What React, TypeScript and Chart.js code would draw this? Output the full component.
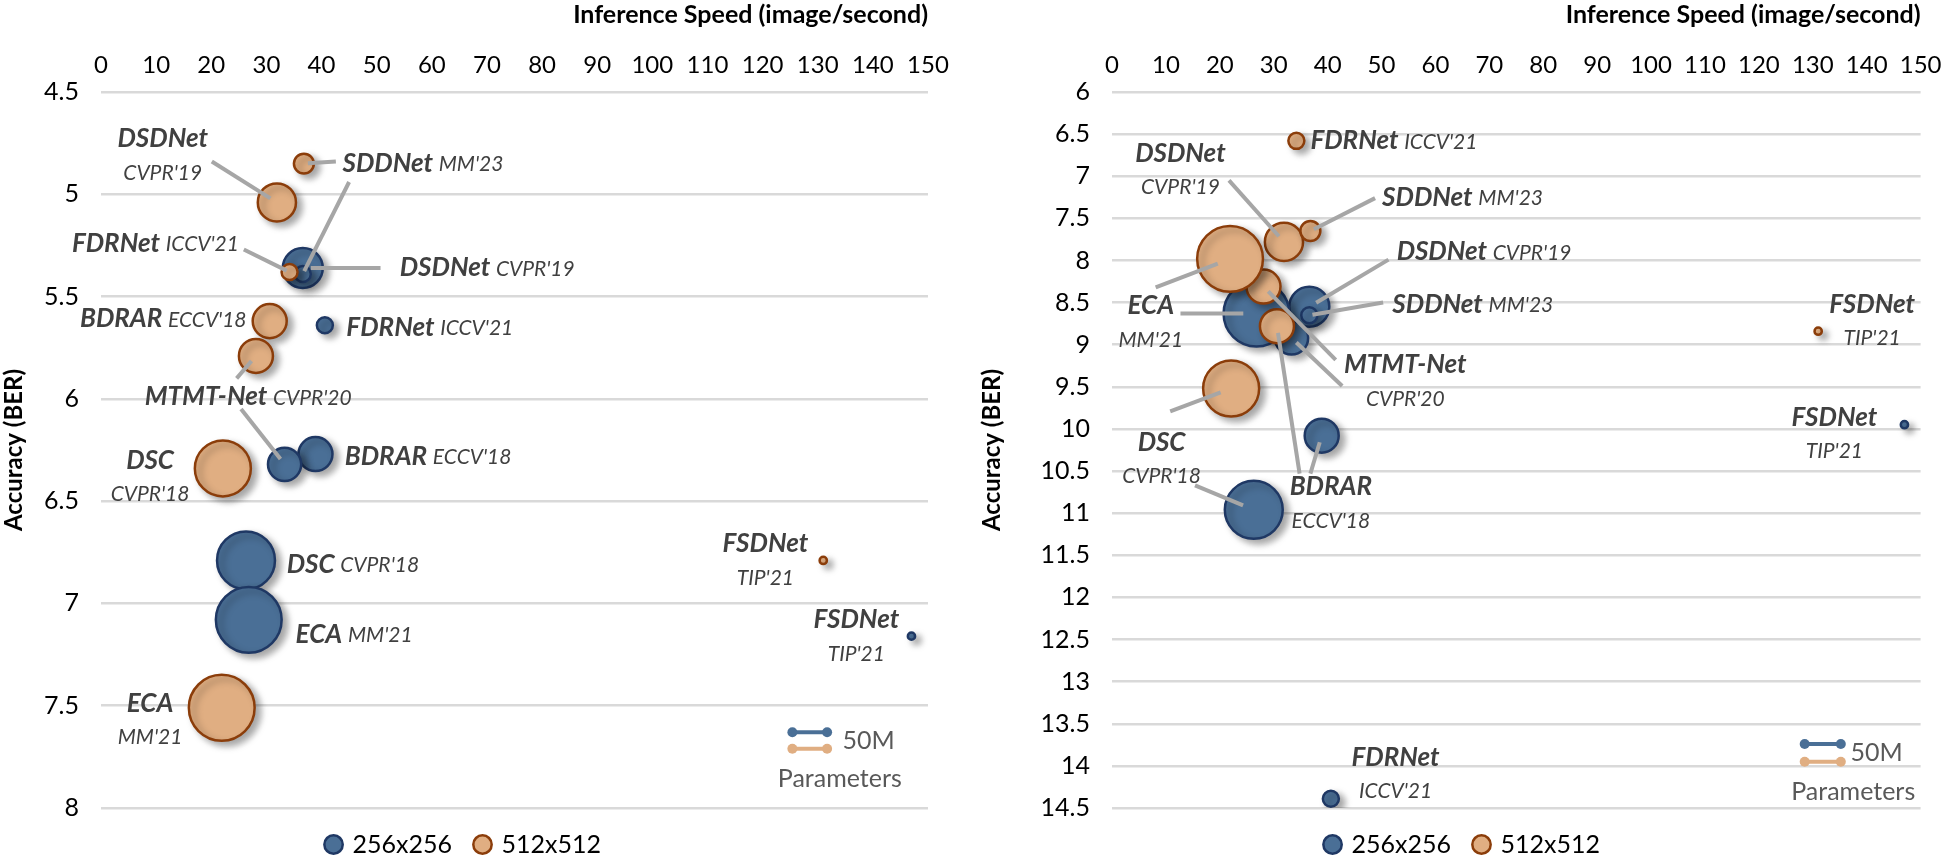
import React, { useEffect, useRef } from 'react';
import { Chart, registerables } from 'chart.js';

Chart.register(...registerables);

// ---- data (speed in image/second, BER, params in M) ----
// order: DSDNet, SDDNet, FDRNet, BDRAR, MTMT-Net, DSC, ECA, FSDNet
const methods = ['DSDNet', 'SDDNet', 'FDRNet', 'BDRAR', 'MTMT-Net', 'DSC', 'ECA', 'FSDNet'];
const speed256 = [36.6, 36.6, 40.6, 38.9, 33.3, 26.3, 26.8, 147];
const speed512 = [31.9, 36.8, 34.2, 30.6, 28.1, 22.1, 21.9, 131];
const params256 = [18.1, 2.9, 2.9, 13.1, 12.5, 38, 49, 0.6];
const params512 = [16.5, 4.5, 2.9, 13.1, 13.1, 35.5, 49, 0.6];
const berLeft256 = [5.36, 5.39, 5.64, 6.27, 6.32, 6.79, 7.08, 7.16];
const berLeft512 = [5.04, 4.85, 5.38, 5.62, 5.79, 6.34, 7.51, 6.79];
const berRight256 = [8.55, 8.65, 14.39, 10.08, 8.92, 10.96, 8.63, 9.95];
const berRight512 = [7.78, 7.65, 6.58, 8.78, 8.31, 9.52, 7.98, 8.84];
const xTicks = [0, 10, 20, 30, 40, 50, 60, 70, 80, 90, 100, 110, 120, 130, 140, 150];

const BLUE = '#4a6f96';
const BLUE_B = '#1f3864';
const ORANGE = '#e0ae82';
const ORANGE_B = '#8b3d0a';
const TXT = '#404040';

const radius = (p: number) => 4.7 * Math.sqrt(p);

// label layout: text anchor (data coords), align, two-line, leaders [series, index, fromX, fromY]
type Lbl = { name: string; venue: string; x: number; y: number; align: CanvasTextAlign; two: boolean; leaders: [string, number, number, number][] };

const leftLabels: Lbl[] = [
  { name: 'DSDNet', venue: "CVPR'19", x: 11.2, y: 4.73, align: 'center', two: true, leaders: [['o', 0, 20.1, 4.84]] },
  { name: 'SDDNet', venue: "MM'23", x: 43.8, y: 4.85, align: 'left', two: false, leaders: [['o', 1, 42.6, 4.84], ['b', 1, 45, 4.94]] },
  { name: 'FDRNet', venue: "ICCV'21", x: 25, y: 5.24, align: 'right', two: false, leaders: [['o', 2, 25.9, 5.27]] },
  { name: 'DSDNet', venue: "CVPR'19", x: 54.2, y: 5.36, align: 'left', two: false, leaders: [['b', 0, 50.7, 5.36]] },
  { name: 'BDRAR', venue: "ECCV'18", x: 26.4, y: 5.61, align: 'right', two: false, leaders: [] },
  { name: 'FDRNet', venue: "ICCV'21", x: 44.5, y: 5.65, align: 'left', two: false, leaders: [] },
  { name: 'MTMT-Net', venue: "CVPR'20", x: 26.7, y: 5.99, align: 'center', two: false, leaders: [['o', 4, 24.6, 5.9], ['b', 4, 25.4, 6.05]] },
  { name: 'BDRAR', venue: "ECCV'18", x: 44.2, y: 6.28, align: 'left', two: false, leaders: [] },
  { name: 'DSC', venue: "CVPR'18", x: 8.9, y: 6.3, align: 'center', two: true, leaders: [] },
  { name: 'DSC', venue: "CVPR'18", x: 33.7, y: 6.81, align: 'left', two: false, leaders: [] },
  { name: 'ECA', venue: "MM'21", x: 35.3, y: 7.15, align: 'left', two: false, leaders: [] },
  { name: 'ECA', venue: "MM'21", x: 8.9, y: 7.49, align: 'center', two: true, leaders: [] },
  { name: 'FSDNet', venue: "TIP'21", x: 120.5, y: 6.71, align: 'center', two: true, leaders: [] },
  { name: 'FSDNet', venue: "TIP'21", x: 137, y: 7.08, align: 'center', two: true, leaders: [] },
];

const rightLabels: Lbl[] = [
  { name: 'FDRNet', venue: "ICCV'21", x: 36.8, y: 6.58, align: 'left', two: false, leaders: [] },
  { name: 'DSDNet', venue: "CVPR'19", x: 12.7, y: 6.73, align: 'center', two: true, leaders: [['o', 0, 21.7, 7.05]] },
  { name: 'SDDNet', venue: "MM'23", x: 50.1, y: 7.25, align: 'left', two: false, leaders: [['o', 1, 48.8, 7.26]] },
  { name: 'ECA', venue: "MM'21", x: 7.2, y: 8.54, align: 'center', two: true, leaders: [['o', 6, 8.1, 8.32], ['b', 6, 12.7, 8.63]] },
  { name: 'DSDNet', venue: "CVPR'19", x: 52.8, y: 7.9, align: 'left', two: false, leaders: [['b', 0, 51.3, 7.99]] },
  { name: 'SDDNet', venue: "MM'23", x: 52, y: 8.52, align: 'left', two: false, leaders: [['b', 1, 50.3, 8.5]] },
  { name: 'MTMT-Net', venue: "CVPR'20", x: 54.4, y: 9.24, align: 'center', two: true, leaders: [['o', 4, 41.5, 9.18], ['b', 4, 42.7, 9.49]] },
  { name: 'DSC', venue: "CVPR'18", x: 9.2, y: 10.16, align: 'center', two: true, leaders: [['o', 5, 10.8, 9.79], ['b', 5, 15.4, 10.67]] },
  { name: 'BDRAR', venue: "ECCV'18", x: 40.6, y: 10.69, align: 'center', two: true, leaders: [['o', 3, 34.8, 10.53], ['b', 3, 36.8, 10.53]] },
  { name: 'FSDNet', venue: "TIP'21", x: 141, y: 8.52, align: 'center', two: true, leaders: [] },
  { name: 'FSDNet', venue: "TIP'21", x: 134, y: 9.86, align: 'center', two: true, leaders: [] },
  { name: 'FDRNet', venue: "ICCV'21", x: 52.6, y: 13.9, align: 'center', two: true, leaders: [] },
];

type Key = { x0: number; x1: number; yb: number; yo: number; tx: number; ty: number; px: number; py: number };
const leftKey: Key = { x0: 125.4, x1: 131.7, yb: 7.63, yo: 7.71, tx: 134.5, ty: 7.67, px: 134, py: 7.86 };
const rightKey: Key = { x0: 128.5, x1: 135.2, yb: 13.74, yo: 13.95, tx: 137, ty: 13.85, px: 137.5, py: 14.31 };

const FONT = 'Lato, "Open Sans", sans-serif';

const shadowPlugin = {
  id: 'shadow',
  beforeDatasetDraw(chart: any) {
    const ctx = chart.ctx;
    ctx.save();
    ctx.shadowColor = 'rgba(0,0,0,0.35)';
    ctx.shadowBlur = 7;
    ctx.shadowOffsetX = 5;
    ctx.shadowOffsetY = 4;
  },
  afterDatasetDraw(chart: any) {
    chart.ctx.restore();
  },
};

function makeLabelPlugin(labels: Lbl[], key: Key) {
  return {
    id: 'labels',
    afterDatasetsDraw(chart: any) {
      const ctx = chart.ctx;
      const xs = chart.scales.x;
      const ys = chart.scales.y;
      const metaB = chart.getDatasetMeta(0);
      const metaO = chart.getDatasetMeta(1);
      ctx.save();
      // leaders
      ctx.strokeStyle = '#a6a6a6';
      ctx.lineWidth = 4;
      labels.forEach((l) => {
        l.leaders.forEach(([s, i, fx, fy]) => {
          const el = (s === 'b' ? metaB : metaO).data[i];
          const r = (s === 'b' ? radius(params256[i]) : radius(params512[i]));
          const ax = xs.getPixelForValue(fx);
          const ay = ys.getPixelForValue(fy);
          const dx = ax - el.x;
          const dy = ay - el.y;
          const d = Math.hypot(dx, dy) || 1;
          ctx.beginPath();
          ctx.moveTo(ax, ay);
          ctx.lineTo(el.x + (dx / d) * r * 0.4, el.y + (dy / d) * r * 0.4);
          ctx.stroke();
        });
      });
      // texts
      ctx.fillStyle = TXT;
      ctx.textBaseline = 'middle';
      const nameFont = `italic bold 26px ${FONT}`;
      const venueFont = `italic 21px ${FONT}`;
      labels.forEach((l) => {
        const px = xs.getPixelForValue(l.x);
        const py = ys.getPixelForValue(l.y);
        if (l.two) {
          ctx.textAlign = l.align;
          ctx.font = nameFont;
          ctx.fillText(l.name, px, py);
          ctx.font = venueFont;
          ctx.fillText(l.venue, px, py + 34);
        } else {
          ctx.font = nameFont;
          const w1 = ctx.measureText(l.name + ' ').width;
          ctx.font = venueFont;
          const w2 = ctx.measureText(l.venue).width;
          let start = px;
          if (l.align === 'center') start = px - (w1 + w2) / 2;
          if (l.align === 'right') start = px - (w1 + w2);
          ctx.textAlign = 'left';
          ctx.font = nameFont;
          ctx.fillText(l.name, start, py);
          ctx.font = venueFont;
          ctx.fillText(l.venue, start + w1, py + 1);
        }
      });
      // size key
      const drawKey = (y: number, c: string) => {
        const a = xs.getPixelForValue(key.x0);
        const b = xs.getPixelForValue(key.x1);
        const py = ys.getPixelForValue(y);
        ctx.strokeStyle = c;
        ctx.fillStyle = c;
        ctx.lineWidth = 4;
        ctx.beginPath();
        ctx.moveTo(a, py);
        ctx.lineTo(b, py);
        ctx.stroke();
        [a, b].forEach((p) => {
          ctx.beginPath();
          ctx.arc(p, py, 5, 0, Math.PI * 2);
          ctx.fill();
        });
      };
      drawKey(key.yb, BLUE);
      drawKey(key.yo, ORANGE);
      ctx.fillStyle = '#595959';
      ctx.font = `25px ${FONT}`;
      ctx.textAlign = 'left';
      ctx.fillText('50M', xs.getPixelForValue(key.tx), ys.getPixelForValue(key.ty));
      ctx.textAlign = 'center';
      ctx.fillText('Parameters', xs.getPixelForValue(key.px), ys.getPixelForValue(key.py));
      ctx.restore();
    },
  };
}

interface BubbleProps {
  ber256: number[];
  ber512: number[];
  yMin: number;
  yMax: number;
  yWidth: number;
  padRight: number;
  labels: Lbl[];
  sizeKey: Key;
}

const BubblePanel: React.FC<BubbleProps> = ({ ber256, ber512, yMin, yMax, yWidth, padRight, labels, sizeKey }) => {
  const canvasRef = useRef<HTMLCanvasElement | null>(null);

  useEffect(() => {
    if (!canvasRef.current) return;
    const chart = new Chart(canvasRef.current, {
      type: 'bubble',
      data: {
        datasets: [
          {
            label: '256x256',
            data: methods.map((_, i) => ({ x: speed256[i], y: ber256[i], r: radius(params256[i]) })),
            backgroundColor: BLUE,
            borderColor: BLUE_B,
            borderWidth: 2.5,
            order: 1,
          },
          {
            label: '512x512',
            data: methods.map((_, i) => ({ x: speed512[i], y: ber512[i], r: radius(params512[i]) })),
            backgroundColor: ORANGE,
            borderColor: ORANGE_B,
            borderWidth: 2.5,
            order: 0,
          },
        ],
      },
      options: {
        animation: false,
        responsive: false,
        layout: { padding: { left: 0, right: padRight, top: 0, bottom: 0 } },
        plugins: {
          legend: {
            position: 'bottom',
            labels: {
              usePointStyle: true,
              pointStyle: 'circle',
              boxWidth: 13,
              boxHeight: 13,
              padding: 24,
              color: '#000',
              font: { size: 25, family: FONT },
              sort: (a: any, b: any) => a.datasetIndex - b.datasetIndex,
            },
          },
          tooltip: { enabled: false },
        },
        scales: {
          x: {
            type: 'linear',
            position: 'top',
            min: 0,
            max: 150,
            afterBuildTicks: (s: any) => { s.ticks = xTicks.map((v) => ({ value: v })); },
            afterFit: (s: any) => { s.height = 92; },
            grid: { display: false },
            border: { display: false },
            ticks: { color: '#000', font: { size: 24, family: FONT }, padding: 4, maxRotation: 0 },
            title: { display: true, text: 'Inference Speed (image/second)', color: '#000', font: { size: 25, weight: 'bold', family: FONT }, align: 'end', padding: 0 },
          },
          y: {
            reverse: true,
            min: yMin,
            max: yMax,
            afterFit: (s: any) => { s.width = yWidth; },
            ticks: { stepSize: 0.5, color: '#000', font: { size: 25, family: FONT }, padding: 22, callback: (v: any) => String(Number(v)) },
            grid: { color: '#d9d9d9', lineWidth: 2.5, drawTicks: false },
            border: { display: false },
            title: { display: true, text: 'Accuracy (BER)', color: '#000', font: { size: 24, weight: 'bold', family: FONT }, padding: 0 },
          },
        },
      },
      plugins: [shadowPlugin, makeLabelPlugin(labels, sizeKey)],
    } as any);
    return () => chart.destroy();
  }, []);

  return <canvas ref={canvasRef} width={978} height={867} style={{ width: 978, height: 867, display: 'block' }} />;
};

export default function App() {
  return (
    <div style={{ position: 'absolute', left: 0, top: 0, width: 1955, height: 867, display: 'flex', background: '#fff' }}>
      <BubblePanel ber256={berLeft256} ber512={berLeft512} yMin={4.5} yMax={8} yWidth={101} padRight={50} labels={leftLabels} sizeKey={leftKey} />
      <BubblePanel ber256={berRight256} ber512={berRight512} yMin={6} yMax={14.5} yWidth={134} padRight={8} labels={rightLabels} sizeKey={rightKey} />
    </div>
  );
}
